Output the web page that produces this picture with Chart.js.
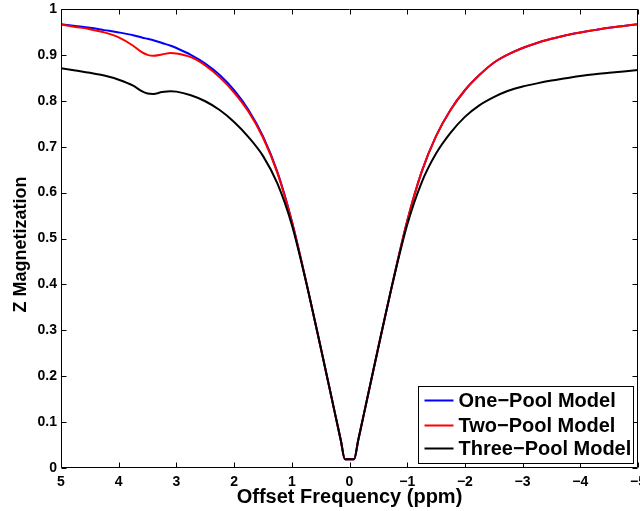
<!DOCTYPE html>
<html><head><meta charset="utf-8">
<script src="https://cdn.jsdelivr.net/npm/chart.js@4.4.0/dist/chart.umd.min.js"></script>
<style>html,body{margin:0;padding:0;background:#fff;}canvas{display:block;}</style>
</head><body>
<canvas id="c" width="640" height="511"></canvas>
<script>
const ppm = [5, 4.75, 4.5, 4.25, 4, 3.75, 3.6, 3.5, 3.4, 3.25, 3.1, 3, 2.75, 2.5, 2.25, 2, 1.75, 1.5, 1.25, 1, 0.75, 0.5, 0.25, 0.15, 0.08,
  -0.08, -0.15, -0.25, -0.5, -0.75, -1, -1.25, -1.5, -1.75, -2, -2.25, -2.5, -2.75, -3, -3.25, -3.5, -3.75, -4, -4.25, -4.5, -4.75, -5];
const onePool = [0.967, 0.963, 0.959, 0.954, 0.949, 0.943, 0.938, 0.935, 0.932, 0.926, 0.920, 0.915, 0.900, 0.881, 0.856, 0.823, 0.780, 0.723, 0.645, 0.538, 0.405, 0.263, 0.118, 0.060, 0.019,
  0.019, 0.060, 0.118, 0.263, 0.405, 0.538, 0.645, 0.723, 0.780, 0.823, 0.856, 0.883, 0.901, 0.915, 0.926, 0.935, 0.943, 0.949, 0.954, 0.959, 0.963, 0.967];
const twoPool = [0.966, 0.961, 0.956, 0.949, 0.938, 0.920, 0.906, 0.900, 0.898, 0.901, 0.904, 0.903, 0.895, 0.877, 0.851, 0.818, 0.776, 0.720, 0.643, 0.537, 0.405, 0.263, 0.118, 0.060, 0.019,
  0.019, 0.060, 0.118, 0.263, 0.405, 0.538, 0.645, 0.723, 0.780, 0.823, 0.856, 0.883, 0.901, 0.915, 0.926, 0.935, 0.943, 0.949, 0.954, 0.959, 0.963, 0.967];
const threePool = [0.871, 0.866, 0.861, 0.855, 0.846, 0.833, 0.821, 0.816, 0.815, 0.819, 0.821, 0.820, 0.812, 0.799, 0.780, 0.754, 0.721, 0.680, 0.620, 0.530, 0.404, 0.263, 0.118, 0.060, 0.019,
  0.019, 0.060, 0.118, 0.263, 0.404, 0.530, 0.622, 0.685, 0.730, 0.765, 0.790, 0.808, 0.822, 0.831, 0.838, 0.844, 0.849, 0.854, 0.858, 0.861, 0.864, 0.867];
const seriesLabels = ['One\u2212Pool Model', 'Two\u2212Pool Model', 'Three\u2212Pool Model'];
const seriesColors = ['#0000ff', '#ff0000', '#000000'];
const xTitle = 'Offset Frequency (ppm)';
const yTitle = 'Z Magnetization';

const FONT = '"Liberation Sans", Arial, Helvetica, sans-serif';
const pts = (ys) => ppm.map((x, i) => ({x: x, y: ys[i]}));

const frameTicks = {
  id: 'frameTicks',
  afterDatasetsDraw(chart) {
    const ctx = chart.ctx, a = chart.chartArea;
    const xs = chart.scales.x, ys = chart.scales.y;
    const L = Math.round(a.left) + 0.5, R = Math.round(a.right) - 0.5;
    const T = Math.round(a.top) + 0.5, B = Math.round(a.bottom) - 0.5;
    ctx.save();
    ctx.strokeStyle = '#000'; ctx.lineWidth = 1;
    ctx.beginPath();
    ctx.rect(L, T, R - L, B - T);
    const tl = 5;
    xs.ticks.forEach(t => {
      const px = Math.round(xs.getPixelForValue(t.value)) + 0.5;
      ctx.moveTo(px, B); ctx.lineTo(px, B - tl);
      ctx.moveTo(px, T); ctx.lineTo(px, T + tl);
    });
    ys.ticks.forEach(t => {
      const py = Math.round(ys.getPixelForValue(t.value)) + 0.5;
      ctx.moveTo(L, py); ctx.lineTo(L + tl, py);
      ctx.moveTo(R, py); ctx.lineTo(R - tl, py);
    });
    ctx.stroke();

    // y axis title
    ctx.save();
    ctx.translate(21, (a.top + a.bottom) / 2 + 6);
    ctx.rotate(-Math.PI / 2);
    ctx.font = 'bold 18px ' + FONT;
    ctx.fillStyle = '#000';
    ctx.textAlign = 'center';
    ctx.textBaseline = 'middle';
    ctx.fillText(yTitle, 0, 0);
    ctx.restore();

    // legend box
    const bx = Math.round(a.right) - 220 + 0.5, by = Math.round(a.bottom) - 82 + 0.5;
    const bw = 215, bh = 77;
    ctx.fillStyle = '#fff';
    ctx.fillRect(bx, by, bw, bh);
    ctx.strokeRect(bx, by, bw, bh);
    const rows = [14, 39, 62];
    ctx.font = 'bold 20px ' + FONT;
    ctx.textBaseline = 'middle';
    ctx.textAlign = 'left';
    chart.data.datasets.forEach((ds, i) => {
      const yy = by + rows[i];
      ctx.strokeStyle = ds.borderColor; ctx.lineWidth = 2;
      ctx.beginPath(); ctx.moveTo(bx + 6, yy); ctx.lineTo(bx + 35, yy); ctx.stroke();
      ctx.fillStyle = '#000';
      ctx.fillText(ds.label, bx + 40, yy + 1);
    });
    ctx.restore();
  }
};

new Chart(document.getElementById('c'), {
  type: 'line',
  data: {
    datasets: [
      {label: seriesLabels[0], data: pts(onePool), borderColor: seriesColors[0], order: 3},
      {label: seriesLabels[1], data: pts(twoPool), borderColor: seriesColors[1], order: 2},
      {label: seriesLabels[2], data: pts(threePool), borderColor: seriesColors[2], order: 1}
    ]
  },
  options: {
    responsive: false,
    animation: false,
    events: [],
    layout: {padding: {top: 9, right: 2, left: 0, bottom: 0}},
    elements: {
      point: {radius: 0},
      line: {borderWidth: 2, cubicInterpolationMode: 'monotone', fill: false}
    },
    plugins: {legend: {display: false}, tooltip: {enabled: false}, title: {display: false}},
    scales: {
      x: {
        type: 'linear', reverse: true, min: -5, max: 5,
        border: {display: false},
        grid: {display: false, drawTicks: false},
        ticks: {
          stepSize: 1, autoSkip: false, maxRotation: 0, padding: 6, color: '#000',
          font: {family: FONT, size: 14, weight: 'bold'},
          callback: (v) => v < 0 ? '\u2212' + Math.abs(v) : String(v)
        },
        title: {display: true, text: xTitle, color: '#000', padding: {top: 0, bottom: 2},
          font: {family: FONT, size: 20, weight: 'bold'}},
        afterFit: (s) => { s.height = 43; s.paddingLeft = 0; s.paddingRight = 0; }
      },
      y: {
        min: 0, max: 1,
        border: {display: false},
        grid: {display: false, drawTicks: false},
        ticks: {
          stepSize: 0.1, padding: 4, color: '#000',
          font: {family: FONT, size: 14, weight: 'bold'},
          callback: (v) => (Math.abs(v) < 1e-9 ? '0' : Math.abs(v - 1) < 1e-9 ? '1' : v.toFixed(1))
        },
        title: {display: false},
        afterFit: (s) => { s.width = 61; s.paddingTop = 0; s.paddingBottom = 0; }
      }
    }
  },
  plugins: [frameTicks]
});
</script>
</body></html>
